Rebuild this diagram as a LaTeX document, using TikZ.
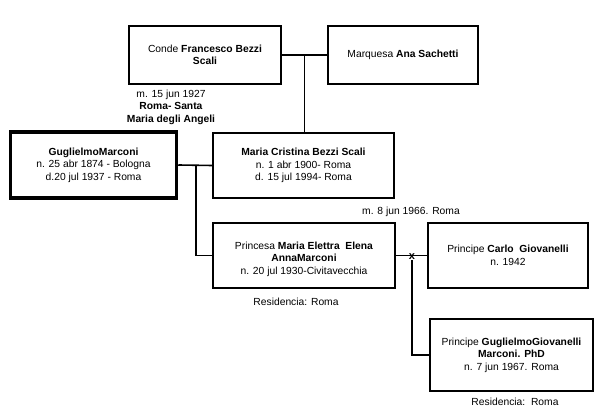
\documentclass[tikz,border=0pt]{standalone}
\usepackage{fontspec}
\setmainfont{Liberation Sans}
\usetikzlibrary{calc}
\begin{document}
\begin{tikzpicture}[x=1pt,y=-1pt,
  every node/.style={font=\fontsize{10.3}{12.6}\selectfont},
  pbox/.style={draw, line width=1.6pt, align=center, inner sep=0pt, rectangle},
  conn/.style={line width=1.6pt},
  lbl/.style={align=center, inner sep=0pt}]
\useasboundingbox (0,0) rectangle (598,414);
\node[pbox, minimum width=152pt, minimum height=58pt] (F) at (205,55) {Conde \textbf{Francesco Bezzi}\\\textbf{Scali}};
\node[pbox, minimum width=150pt, minimum height=58pt] (A) at (403,55) {Marquesa \textbf{Ana Sachetti}};
\node[pbox, line width=3.5pt, minimum width=166pt, minimum height=66pt] (G) at (93.5,165) {\textbf{GuglielmoMarconi}\\n. 25 abr 1874 - Bologna\\d.20 jul 1937 - Roma};
\node[pbox, minimum width=181pt, minimum height=65pt] (MC) at (303.5,165.5) {\textbf{Maria Cristina Bezzi Scali}\\n. 1 abr 1900- Roma\\d. 15 jul 1994- Roma};
\node[pbox, minimum width=182pt, minimum height=65pt] (E) at (304,255.5) {};
\node[lbl] (Et) at (304,259) {Princesa \textbf{Maria Elettra\ \ Elena}\\\textbf{AnnaMarconi}\\n. 20 jul 1930-Civitavecchia};
\node[pbox, minimum width=160pt, minimum height=65pt] (C) at (508,255.5) {Principe \textbf{Carlo\ \ Giovanelli}\\n. 1942};
\node[pbox, minimum width=163pt, minimum height=72pt] (GG) at (511.5,355) {Principe \textbf{GuglielmoGiovanelli}\\\textbf{Marconi. PhD}\\n. 7 jun 1967. Roma};
\node[lbl] (m1) at (171,107) {m. 15 jun 1927\\\textbf{Roma- Santa}\\\textbf{Maria degli Angeli}};
\node[lbl] (m2) at (411,212) {m. 8 jun 1966. Roma};
\node[lbl] (r1) at (296,302) {Residencia: Roma};
\node[lbl] (r2) at (515,402) {Residencia:\ \ Roma};
% connectors
\draw[conn] (F.east) -- (A.west);
\coordinate (fa) at ($(F.east)!0.5!(A.west)$);
\draw[conn] (fa) -- (fa |- MC.north);
\draw[conn] (G.east) -- (MC.west);
\coordinate (gm) at (196,165);
\draw[conn] (gm) |- (E.west);
\draw[conn] (E.east) -- (C.west);
\node[lbl, font=\fontsize{11}{12}\selectfont\bfseries] (x) at (412,257) {x};
\draw[conn] (x.south) |- (GG.west);
\end{tikzpicture}
\end{document}
